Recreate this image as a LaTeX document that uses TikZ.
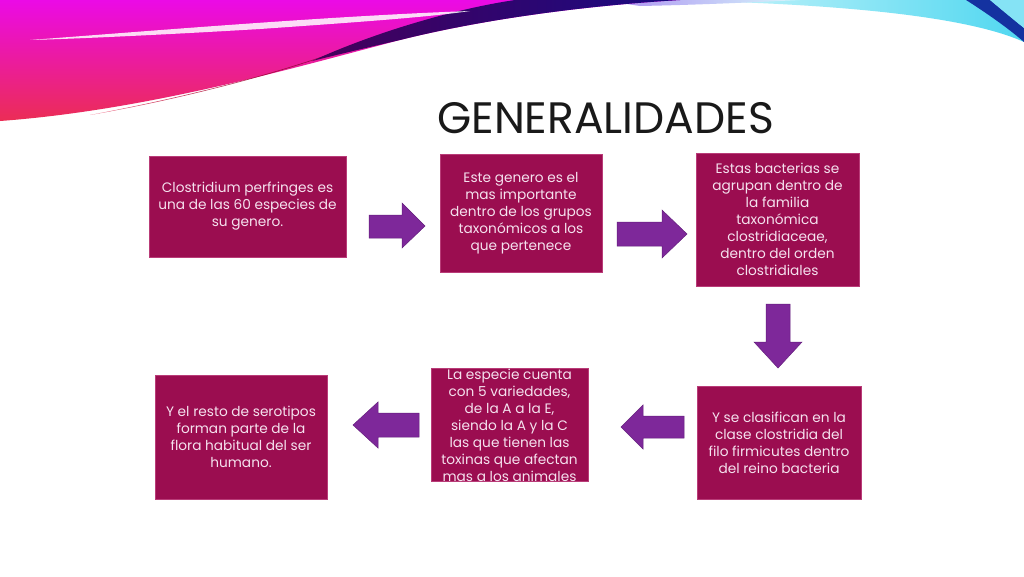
\documentclass[tikz,border=0pt]{standalone}
\usepackage{fontspec}
\setmainfont{Poppins}
\usetikzlibrary{calc}
\definecolor{boxfill}{RGB}{155,13,80}
\definecolor{boxedge}{RGB}{185,60,120}
\definecolor{boxtext}{RGB}{245,225,238}
\definecolor{arrowfill}{RGB}{126,40,154}
\definecolor{arrowedge}{RGB}{100,30,125}
\definecolor{swmag}{RGB}{235,10,230}
\definecolor{swred}{RGB}{235,45,85}
\definecolor{swmaroon}{RGB}{120,0,40}
\definecolor{swdpurple}{RGB}{70,0,90}
\definecolor{swnavy}{RGB}{25,10,130}
\definecolor{swlav}{RGB}{170,140,240}
\definecolor{swcyan}{RGB}{80,215,240}
\definecolor{swcyanl}{RGB}{215,248,252}
\definecolor{swblue}{RGB}{20,50,160}
\definecolor{titlecol}{RGB}{25,25,25}
\tikzset{
  infobox/.style={rectangle, fill=boxfill, draw=boxedge, line width=0.6pt,
    text=boxtext, align=center, inner sep=2pt,
    font=\fontsize{13.7}{17}\selectfont},
  blockarrow/.style={fill=arrowfill, draw=arrowedge, line width=0.5pt}
}
\begin{document}
\begin{tikzpicture}[x=1pt,y=-1pt]
\useasboundingbox (0,0) rectangle (1024,576);
\fill[white] (0,0) rectangle (1024,576);
% swoosh background: cyan part (right)
\shade[left color=swcyanl, right color=swcyan]
  (660,0) -- (1024,0) -- (1024,42) .. controls (980,22) and (880,4) .. (660,0) -- cycle;
% lavender strip
\shade[left color=swlav, right color=swcyanl]
  (600,0) -- (800,0) .. controls (740,3) and (690,5) .. (640,6) -- cycle;
% main magenta/red band
\shade[top color=swmag, bottom color=swred]
  (0,0) -- (680,0) .. controls (580,6) and (480,20) .. (400,40)
  .. controls (300,66) and (150,110) .. (0,121) -- cycle;
% dark shadow along lower edge
\shade[left color=swred, right color=swmaroon, opacity=0.85]
  (90,115) .. controls (180,98) and (260,78) .. (330,54)
  .. controls (300,66) and (200,96) .. (90,115) -- cycle;
% navy wedge
\shade[left color=swdpurple, right color=swnavy]
  (312,61) .. controls (380,30) and (460,8) .. (515,0) -- (680,0)
  .. controls (580,6) and (480,20) .. (400,40)
  .. controls (370,47) and (340,54) .. (312,61) -- cycle;
% white streak
\fill[white, opacity=0.85]
  (30,40) .. controls (150,31) and (330,16) .. (470,11)
  .. controls (430,17) and (360,22) .. (260,29)
  .. controls (160,35) and (70,39) .. (30,40) -- cycle;
% dark blue stroke top right
\fill[swblue]
  (966,0) -- (990,0) .. controls (1002,10) and (1014,20) .. (1024,28) -- (1024,42)
  .. controls (1008,28) and (985,12) .. (966,0) -- cycle;
\fill[swcyan!70!white]
  (990,0) -- (1024,0) -- (1024,28) .. controls (1014,20) and (1002,10) .. (990,0) -- cycle;
% title
\node[anchor=base west, inner sep=0pt, text=titlecol, font=\fontsize{44}{44}\selectfont]
  (title) at (437,133) {GENERALIDADES};
% boxes
\node[infobox, minimum width=197pt, minimum height=101pt] (b1) at (247.5,206.5)
  {Clostridium perfringes es\\una de las 60 especies de\\su genero.};
\node[infobox, minimum width=162pt, minimum height=118pt] (b2) at (521,213)
  {Este genero es el\\mas importante\\dentro de los grupos\\taxonómicos a los\\que pertenece};
\node[infobox, minimum width=163pt, minimum height=133pt] (b3) at (777.5,219.5)
  {Estas bacterias se\\agrupan dentro de\\la familia\\taxonómica\\clostridiaceae,\\dentro del orden\\clostridiales};
\node[infobox, minimum width=164pt, minimum height=113pt] (b4) at (779,442.5)
  {Y se clasifican en la\\clase clostridia del\\filo firmicutes dentro\\del reino bacteria};
\node[infobox, minimum width=172pt, minimum height=124pt] (b6) at (241,437)
  {Y el resto de serotipos\\forman parte de la\\flora habitual del ser\\humano.};
\node[rectangle, fill=boxfill, draw=boxedge, line width=0.6pt, minimum width=157pt, minimum height=113pt] (b5) at (509.5,424.5) {};
\begin{scope}
  \clip (b5.north west) rectangle (b5.south east);
  \node[infobox, fill=none, draw=none] (b5t) at (509.5,425)
    {La especie cuenta\\con 5 variedades,\\de la A a la E,\\siendo la A y la C\\las que tienen las\\toxinas que afectan\\mas a los animales};
\end{scope}
% block arrows
\draw[blockarrow] (369,215) -- (402,215) -- (402,203) -- (425,226) -- (402,248) -- (402,238) -- (369,238) -- cycle;
\draw[blockarrow] (617,222) -- (662,222) -- (662,210) -- (687,234) -- (662,258) -- (662,246) -- (617,246) -- cycle;
\draw[blockarrow] (766,304) -- (790,304) -- (790,342) -- (802,342) -- (778,368) -- (754,342) -- (766,342) -- cycle;
\draw[blockarrow] (684,416) -- (643,416) -- (643,405) -- (621,427) -- (643,449) -- (643,438) -- (684,438) -- cycle;
\draw[blockarrow] (419,413) -- (378,413) -- (378,402) -- (353,425) -- (378,448) -- (378,437) -- (419,437) -- cycle;
\end{tikzpicture}
\end{document}
